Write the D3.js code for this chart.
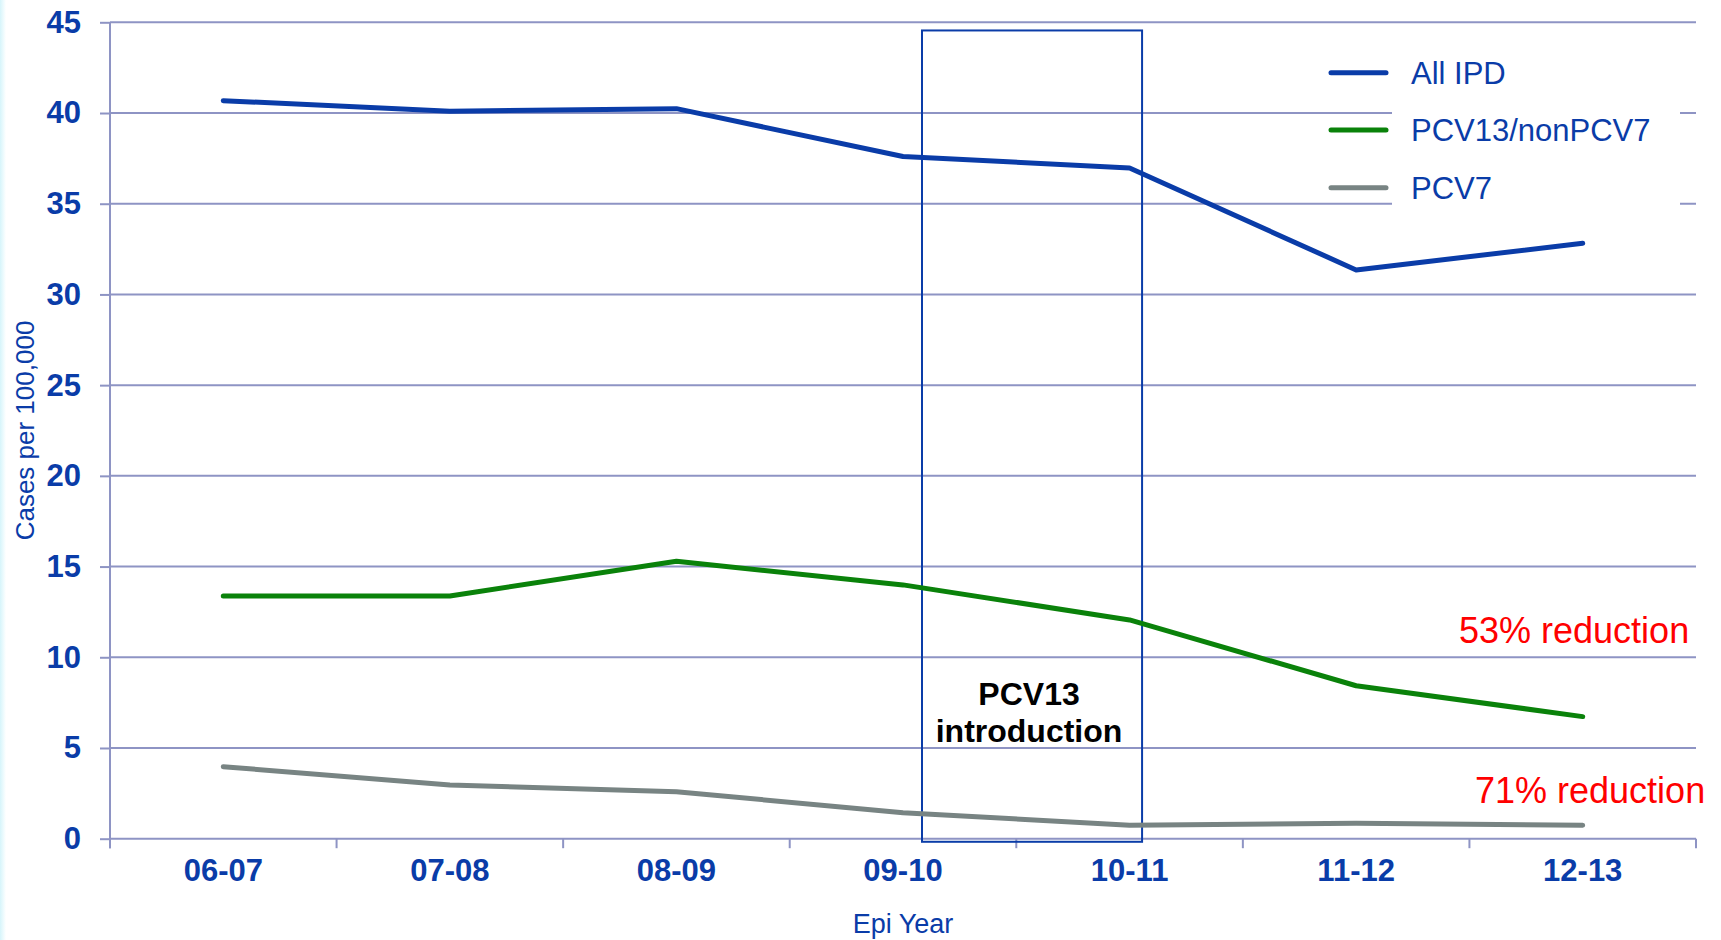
<!DOCTYPE html>
<html>
<head>
<meta charset="utf-8">
<script src="https://cdn.jsdelivr.net/npm/d3@7"></script>
<style>
  html, body { margin: 0; padding: 0; background: #ffffff; }
  svg { display: block; }
  text { font-family: "Liberation Sans", Arial, sans-serif; }
</style>
</head>
<body>
<svg id="chart" width="1721" height="940"></svg>
<script>
// Invasive pneumococcal disease incidence by epidemiological year
const categories = ["06-07", "07-08", "08-09", "09-10", "10-11", "11-12", "12-13"];
const allIPD     = [40.68, 40.10, 40.24, 37.60, 36.97, 31.35, 32.82];
const pcv13non7  = [13.38, 13.38, 15.29, 13.99, 12.06, 8.43, 6.73];
const pcv7       = [3.97, 2.96, 2.59, 1.43, 0.74, 0.85, 0.74];
const yTicks     = [0, 5, 10, 15, 20, 25, 30, 35, 40, 45];
const seriesNames  = ["All IPD", "PCV13/nonPCV7", "PCV7"];
const seriesColors = ["#0a3ca8", "#0a820a", "#788483"];

const W = 1721, H = 940;
const plot = { left: 110, right: 1696, top: 22.3, bottom: 838.7 };
const textBlue = "#0a3ca8";
const gridColor = "#8e94c4";
const fontStack = '"Liberation Sans", Arial, sans-serif';

const svg = d3.select("#chart");

// faint cyan edge on the left
const defs = svg.append("defs");
const grad = defs.append("linearGradient").attr("id", "edge").attr("x1", 0).attr("x2", 1);
grad.append("stop").attr("offset", 0).attr("stop-color", "#d6f5fb");
grad.append("stop").attr("offset", 1).attr("stop-color", "#ffffff");
svg.append("rect").attr("x", 0).attr("y", 0).attr("width", 6).attr("height", H).attr("fill", "url(#edge)");

const x = d3.scaleBand().domain(categories).range([plot.left, plot.right]).padding(0);
const y = d3.scaleLinear().domain([0, 45]).range([plot.bottom, plot.top]);
const cx = c => x(c) + x.bandwidth() / 2;

// horizontal gridlines
svg.append("g").selectAll("line").data(yTicks).join("line")
  .attr("x1", plot.left).attr("x2", plot.right)
  .attr("y1", d => y(d)).attr("y2", d => y(d))
  .attr("stroke", gridColor).attr("stroke-width", 2);

// y axis
const yAxis = svg.append("g").attr("transform", `translate(${plot.left},0)`)
  .call(d3.axisLeft(y).tickValues(yTicks).tickSize(10).tickPadding(19));
yAxis.select(".domain").remove();
yAxis.selectAll(".tick line").attr("stroke", gridColor).attr("stroke-width", 2);
yAxis.selectAll(".tick text").attr("fill", textBlue)
  .style("font-family", fontStack)
  .style("font-size", "31px").style("font-weight", "bold");
svg.append("line").attr("x1", plot.left).attr("x2", plot.left)
  .attr("y1", plot.top).attr("y2", plot.bottom + 9.5)
  .attr("stroke", gridColor).attr("stroke-width", 2);

// x axis: labels centred in bands, ticks on band boundaries
const xAxis = svg.append("g").attr("transform", `translate(0,${plot.bottom})`)
  .call(d3.axisBottom(x).tickSize(0).tickPadding(20));
xAxis.select(".domain").remove();
xAxis.selectAll(".tick text").attr("fill", textBlue)
  .style("font-family", fontStack)
  .style("font-size", "31px").style("font-weight", "bold");
svg.append("g").selectAll("line").data(d3.range(categories.length + 1)).join("line")
  .attr("x1", i => plot.left + i * x.step()).attr("x2", i => plot.left + i * x.step())
  .attr("y1", plot.bottom).attr("y2", plot.bottom + 9.5)
  .attr("stroke", gridColor).attr("stroke-width", 2);

// axis titles
svg.append("text").attr("x", (plot.left + plot.right) / 2).attr("y", 933)
  .attr("text-anchor", "middle").attr("fill", textBlue)
  .style("font-size", "27px").text("Epi Year");
svg.append("text").attr("transform", `translate(34,${(plot.top + plot.bottom) / 2}) rotate(-90)`)
  .attr("text-anchor", "middle").attr("fill", textBlue)
  .style("font-size", "26px").text("Cases per 100,000");

// PCV13 introduction window
const boxLeft = cx("09-10") + 19;
const boxRight = cx("10-11") + 12.5;
svg.append("rect")
  .attr("x", boxLeft).attr("y", y(44.55))
  .attr("width", boxRight - boxLeft).attr("height", y(-0.17) - y(44.55))
  .attr("fill", "none").attr("stroke", "#0a3ca8").attr("stroke-width", 2);
const boxText = svg.append("text").attr("text-anchor", "middle").attr("fill", "#000")
  .style("font-size", "32px").style("font-weight", "bold");
boxText.append("tspan").attr("x", (boxLeft + boxRight) / 2 - 3).attr("y", 705).text("PCV13");
boxText.append("tspan").attr("x", (boxLeft + boxRight) / 2 - 3).attr("y", 742).text("introduction");

// series lines
const series = [allIPD, pcv13non7, pcv7];
const line = d3.line().x((d, i) => cx(categories[i])).y(d => y(d));
svg.append("g").selectAll("path").data(series).join("path")
  .attr("d", d => line(d))
  .attr("fill", "none")
  .attr("stroke", (d, i) => seriesColors[i])
  .attr("stroke-width", 5)
  .attr("stroke-linejoin", "round")
  .attr("stroke-linecap", "round");

// legend
svg.append("rect").attr("x", 1392).attr("y", 40).attr("width", 288).attr("height", 175).attr("fill", "#fff");
const legendY = [72.7, 130, 187.7];
const legend = svg.append("g").selectAll("g").data(seriesNames).join("g");
legend.append("line")
  .attr("x1", 1331).attr("x2", 1386)
  .attr("y1", (d, i) => legendY[i]).attr("y2", (d, i) => legendY[i])
  .attr("stroke", (d, i) => seriesColors[i]).attr("stroke-width", 5).attr("stroke-linecap", "round");
legend.append("text")
  .attr("x", 1411).attr("y", (d, i) => legendY[i] + 11)
  .attr("fill", textBlue).style("font-size", "31px")
  .text(d => d);

// reduction notes
svg.append("text").attr("x", 1459).attr("y", 643).attr("fill", "#ff0000")
  .style("font-size", "36px").text("53% reduction");
svg.append("text").attr("x", 1475).attr("y", 803).attr("fill", "#ff0000")
  .style("font-size", "36px").text("71% reduction");
</script>
</body>
</html>
